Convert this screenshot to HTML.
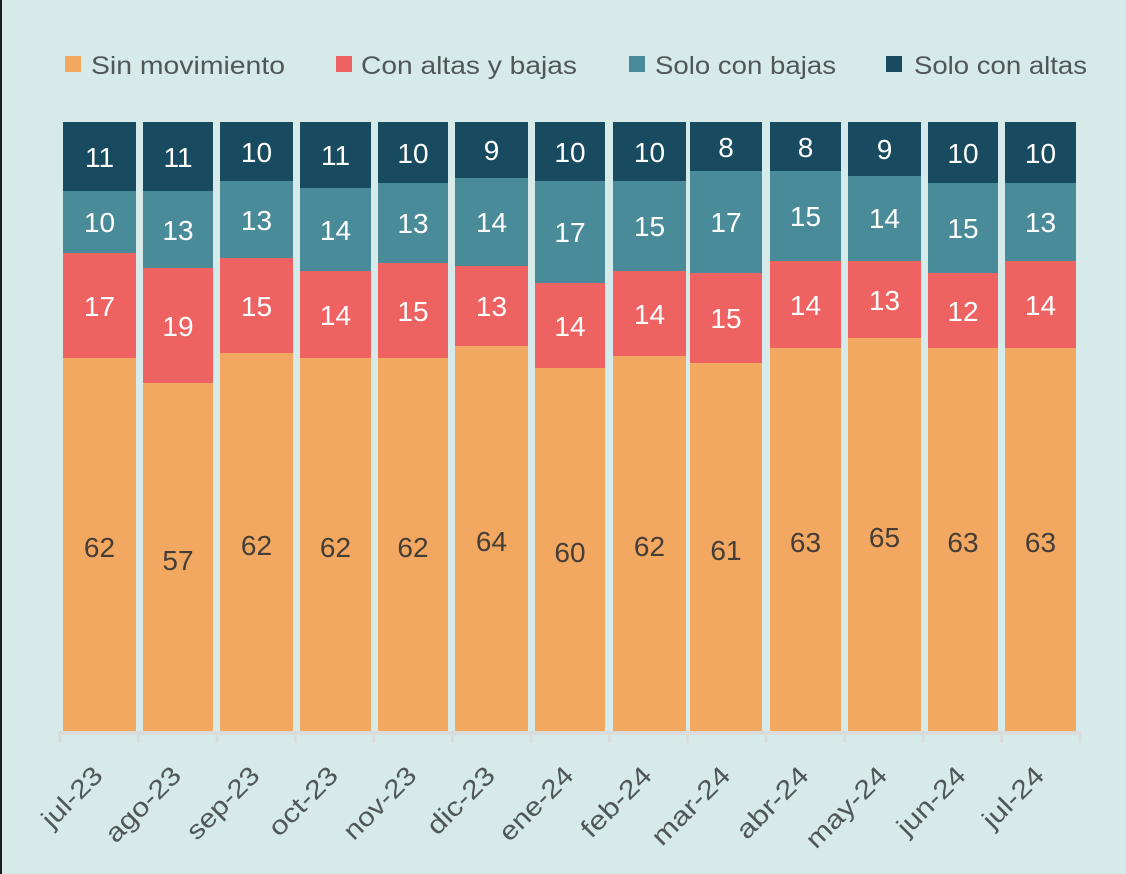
<!DOCTYPE html>
<html><head><meta charset="utf-8"><style>
html,body{margin:0;padding:0;background:#d6eaea;}
svg{display:block;}
text{font-family:"Liberation Sans",sans-serif;}
</style></head><body>
<svg width="1126" height="874" viewBox="0 0 1126 874" xmlns="http://www.w3.org/2000/svg">
<rect x="0" y="0" width="1126" height="874" fill="#d6eaea"/>
<rect x="0" y="0" width="2" height="874" fill="#1b1b1b"/>

<!-- legend -->
<g font-size="25" fill="#4f5759">
<rect x="65" y="56" width="16" height="16" fill="#f2a860"/>
<text x="91" y="74" textLength="194" lengthAdjust="spacingAndGlyphs">Sin movimiento</text>
<rect x="336" y="56" width="16" height="16" fill="#ee6262"/>
<text x="361" y="74" textLength="216" lengthAdjust="spacingAndGlyphs">Con altas y bajas</text>
<rect x="629" y="56" width="16" height="16" fill="#4a8b99"/>
<text x="655" y="74" textLength="181" lengthAdjust="spacingAndGlyphs">Solo con bajas</text>
<rect x="886" y="56" width="16" height="16" fill="#184a60"/>
<text x="914" y="74" textLength="173" lengthAdjust="spacingAndGlyphs">Solo con altas</text>
</g>

<!-- bars -->
<g id="bars"></g>

<!-- axis -->
<rect x="58.5" y="731" width="1023" height="4" fill="#dadcdc"/>
<g fill="#dadcdc">
<rect x="58.5" y="731" width="3" height="12"/>
<rect x="137" y="731" width="3" height="12"/>
<rect x="215.4" y="731" width="3" height="12"/>
<rect x="293.9" y="731" width="3" height="12"/>
<rect x="372.3" y="731" width="3" height="12"/>
<rect x="450.8" y="731" width="3" height="12"/>
<rect x="529.3" y="731" width="3" height="12"/>
<rect x="607.7" y="731" width="3" height="12"/>
<rect x="686.2" y="731" width="3" height="12"/>
<rect x="764.6" y="731" width="3" height="12"/>
<rect x="843.1" y="731" width="3" height="12"/>
<rect x="921.6" y="731" width="3" height="12"/>
<rect x="1000" y="731" width="3" height="12"/>
<rect x="1078.5" y="731" width="3" height="12"/>
</g>

<!-- bar segments (static) -->
<g>
<!-- jul-23 -->
<rect x="63" y="122" width="73" height="69" fill="#184a60"/>
<rect x="63" y="191" width="73" height="62" fill="#4a8b99"/>
<rect x="63" y="253" width="73" height="105" fill="#ee6262"/>
<rect x="63" y="358" width="73" height="373" fill="#f2a860"/>
<!-- ago-23 -->
<rect x="143" y="122" width="70" height="69" fill="#184a60"/>
<rect x="143" y="191" width="70" height="77" fill="#4a8b99"/>
<rect x="143" y="268" width="70" height="115" fill="#ee6262"/>
<rect x="143" y="383" width="70" height="348" fill="#f2a860"/>
<!-- sep-23 -->
<rect x="220" y="122" width="73" height="59" fill="#184a60"/>
<rect x="220" y="181" width="73" height="77" fill="#4a8b99"/>
<rect x="220" y="258" width="73" height="95" fill="#ee6262"/>
<rect x="220" y="353" width="73" height="378" fill="#f2a860"/>
<!-- oct-23 -->
<rect x="300" y="122" width="71" height="66" fill="#184a60"/>
<rect x="300" y="188" width="71" height="83" fill="#4a8b99"/>
<rect x="300" y="271" width="71" height="87" fill="#ee6262"/>
<rect x="300" y="358" width="71" height="373" fill="#f2a860"/>
<!-- nov-23 -->
<rect x="378" y="122" width="70" height="61" fill="#184a60"/>
<rect x="378" y="183" width="70" height="80" fill="#4a8b99"/>
<rect x="378" y="263" width="70" height="95" fill="#ee6262"/>
<rect x="378" y="358" width="70" height="373" fill="#f2a860"/>
<!-- dic-23 -->
<rect x="455" y="122" width="73" height="56" fill="#184a60"/>
<rect x="455" y="178" width="73" height="88" fill="#4a8b99"/>
<rect x="455" y="266" width="73" height="80" fill="#ee6262"/>
<rect x="455" y="346" width="73" height="385" fill="#f2a860"/>
<!-- ene-24 -->
<rect x="535" y="122" width="70" height="59" fill="#184a60"/>
<rect x="535" y="181" width="70" height="102" fill="#4a8b99"/>
<rect x="535" y="283" width="70" height="85" fill="#ee6262"/>
<rect x="535" y="368" width="70" height="363" fill="#f2a860"/>
<!-- feb-24 -->
<rect x="613" y="122" width="73" height="59" fill="#184a60"/>
<rect x="613" y="181" width="73" height="90" fill="#4a8b99"/>
<rect x="613" y="271" width="73" height="85" fill="#ee6262"/>
<rect x="613" y="356" width="73" height="375" fill="#f2a860"/>
<!-- mar-24 -->
<rect x="690" y="122" width="72" height="49" fill="#184a60"/>
<rect x="690" y="171" width="72" height="102" fill="#4a8b99"/>
<rect x="690" y="273" width="72" height="90" fill="#ee6262"/>
<rect x="690" y="363" width="72" height="368" fill="#f2a860"/>
<!-- abr-24 -->
<rect x="770" y="122" width="71" height="49" fill="#184a60"/>
<rect x="770" y="171" width="71" height="90" fill="#4a8b99"/>
<rect x="770" y="261" width="71" height="87" fill="#ee6262"/>
<rect x="770" y="348" width="71" height="383" fill="#f2a860"/>
<!-- may-24 -->
<rect x="848" y="122" width="73" height="54" fill="#184a60"/>
<rect x="848" y="176" width="73" height="85" fill="#4a8b99"/>
<rect x="848" y="261" width="73" height="77" fill="#ee6262"/>
<rect x="848" y="338" width="73" height="393" fill="#f2a860"/>
<!-- jun-24 -->
<rect x="928" y="122" width="70" height="61" fill="#184a60"/>
<rect x="928" y="183" width="70" height="90" fill="#4a8b99"/>
<rect x="928" y="273" width="70" height="75" fill="#ee6262"/>
<rect x="928" y="348" width="70" height="383" fill="#f2a860"/>
<!-- jul-24 -->
<rect x="1005" y="122" width="71" height="61" fill="#184a60"/>
<rect x="1005" y="183" width="71" height="78" fill="#4a8b99"/>
<rect x="1005" y="261" width="71" height="87" fill="#ee6262"/>
<rect x="1005" y="348" width="71" height="383" fill="#f2a860"/>
</g>

<!-- value labels -->
<g font-size="28" text-anchor="middle" fill="#ffffff">
<text x="99.5" y="167">11</text><text x="99.5" y="232">10</text><text x="99.5" y="316">17</text>
<text x="178" y="167">11</text><text x="178" y="240">13</text><text x="178" y="336">19</text>
<text x="256.5" y="162">10</text><text x="256.5" y="230">13</text><text x="256.5" y="316">15</text>
<text x="335.5" y="165">11</text><text x="335.5" y="240">14</text><text x="335.5" y="325">14</text>
<text x="413" y="163">10</text><text x="413" y="233">13</text><text x="413" y="321">15</text>
<text x="491.5" y="160">9</text><text x="491.5" y="232">14</text><text x="491.5" y="316">13</text>
<text x="570" y="162">10</text><text x="570" y="242">17</text><text x="570" y="336">14</text>
<text x="649.5" y="162">10</text><text x="649.5" y="236">15</text><text x="649.5" y="324">14</text>
<text x="726" y="157">8</text><text x="726" y="232">17</text><text x="726" y="328">15</text>
<text x="805.5" y="157">8</text><text x="805.5" y="226">15</text><text x="805.5" y="315">14</text>
<text x="884.5" y="159">9</text><text x="884.5" y="228">14</text><text x="884.5" y="310">13</text>
<text x="963" y="163">10</text><text x="963" y="238">15</text><text x="963" y="321">12</text>
<text x="1040.5" y="163">10</text><text x="1040.5" y="232">13</text><text x="1040.5" y="315">14</text>
</g>
<g font-size="28" text-anchor="middle" fill="#453e38">
<text x="99.5" y="557">62</text>
<text x="178" y="570">57</text>
<text x="256.5" y="555">62</text>
<text x="335.5" y="557">62</text>
<text x="413" y="557">62</text>
<text x="491.5" y="551">64</text>
<text x="570" y="562">60</text>
<text x="649.5" y="556">62</text>
<text x="726" y="560">61</text>
<text x="805.5" y="552">63</text>
<text x="884.5" y="547">65</text>
<text x="963" y="552">63</text>
<text x="1040.5" y="552">63</text>
</g>

<!-- x labels -->
<g font-size="26" fill="#4f5759" text-anchor="end">
<text x="104.3" y="777" transform="rotate(-45 104.3 777)" textLength="74" lengthAdjust="spacingAndGlyphs">jul-23</text>
<text x="182.8" y="777" transform="rotate(-45 182.8 777)" textLength="95" lengthAdjust="spacingAndGlyphs">ago-23</text>
<text x="261.2" y="777" transform="rotate(-45 261.2 777)" textLength="91" lengthAdjust="spacingAndGlyphs">sep-23</text>
<text x="339.7" y="777" transform="rotate(-45 339.7 777)" textLength="86" lengthAdjust="spacingAndGlyphs">oct-23</text>
<text x="418.1" y="777" transform="rotate(-45 418.1 777)" textLength="91" lengthAdjust="spacingAndGlyphs">nov-23</text>
<text x="496.6" y="777" transform="rotate(-45 496.6 777)" textLength="84" lengthAdjust="spacingAndGlyphs">dic-23</text>
<text x="575.1" y="777" transform="rotate(-45 575.1 777)" textLength="93" lengthAdjust="spacingAndGlyphs">ene-24</text>
<text x="653.5" y="777" transform="rotate(-45 653.5 777)" textLength="88" lengthAdjust="spacingAndGlyphs">feb-24</text>
<text x="732" y="777" transform="rotate(-45 732 777)" textLength="99" lengthAdjust="spacingAndGlyphs">mar-24</text>
<text x="810.4" y="777" transform="rotate(-45 810.4 777)" textLength="90" lengthAdjust="spacingAndGlyphs">abr-24</text>
<text x="888.9" y="777" transform="rotate(-45 888.9 777)" textLength="103" lengthAdjust="spacingAndGlyphs">may-24</text>
<text x="967.4" y="777" transform="rotate(-45 967.4 777)" textLength="85" lengthAdjust="spacingAndGlyphs">jun-24</text>
<text x="1045.8" y="777" transform="rotate(-45 1045.8 777)" textLength="75" lengthAdjust="spacingAndGlyphs">jul-24</text>
</g>
</svg>
</body></html>
